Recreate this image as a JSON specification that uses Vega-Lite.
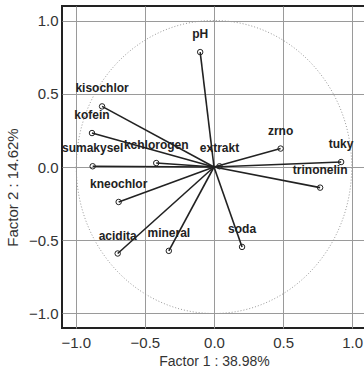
{
  "$schema": "https://vega.github.io/schema/vega-lite/v6.json",
  "autosize": {"type": "none"},
  "padding": {"left": 62, "top": 6, "right": 0, "bottom": 50},
  "width": 304,
  "height": 322,
  "background": "white",
  "config": {
    "view": {"stroke": "#222222", "strokeWidth": 2},
    "axis": {
      "labelFont": "Liberation Sans",
      "labelFontSize": 15,
      "labelColor": "#333333",
      "titleFont": "Liberation Sans",
      "titleFontSize": 14,
      "titleFontWeight": "normal",
      "titleColor": "#333333",
      "grid": true,
      "gridColor": "#9a9a9a",
      "gridWidth": 1,
      "domain": false,
      "ticks": false
    }
  },
  "data": {
    "values": [
      {"var": "pH", "x": -0.10, "y": 0.785},
      {"var": "kisochlor", "x": -0.81, "y": 0.414},
      {"var": "kofein", "x": -0.883, "y": 0.232},
      {"var": "sumakysel", "x": -0.878, "y": 0.005},
      {"var": "kchlorogen", "x": -0.418, "y": 0.027},
      {"var": "kneochlor", "x": -0.69, "y": -0.239},
      {"var": "acidita", "x": -0.697, "y": -0.591},
      {"var": "mineral", "x": -0.327, "y": -0.573},
      {"var": "soda", "x": 0.203, "y": -0.546},
      {"var": "extrakt", "x": 0.04, "y": 0.005},
      {"var": "zrno", "x": 0.482, "y": 0.126},
      {"var": "tuky", "x": 0.92, "y": 0.034},
      {"var": "trinonelin", "x": 0.768, "y": -0.141}
    ]
  },
  "encoding": {
    "x": {
      "field": "x", "type": "quantitative",
      "scale": {"domain": [-1.1, 1.1], "nice": false, "zero": false},
      "axis": {"values": [-1, -0.5, 0, 0.5, 1], "format": ".1f", "title": "Factor 1 : 38.98%", "labelPadding": 7, "titlePadding": 4}
    },
    "y": {
      "field": "y", "type": "quantitative",
      "scale": {"domain": [-1.1, 1.1], "nice": false, "zero": false},
      "axis": {"values": [-1, -0.5, 0, 0.5, 1], "format": ".1f", "title": "Factor 2 : 14.62%", "titleFontSize": 15, "labelPadding": 4, "titleY": 181, "titlePadding": 8}
    }
  },
  "layer": [
    {
      "description": "unit correlation circle",
      "data": {"values": [{"x": 0, "y": 0}]},
      "mark": {
        "type": "point",
        "shape": "M-1,0A1,1.064 0 1,1 1,0A1,1.064 0 1,1 -1,0",
        "size": 75845,
        "filled": false,
        "stroke": "#999999",
        "strokeWidth": 1,
        "strokeDash": [1, 2],
        "opacity": 1
      }
    },
    {
      "mark": {"type": "rule", "color": "#222222", "strokeWidth": 1.6},
      "encoding": {
        "x": {"datum": 0, "type": "quantitative"},
        "y": {"datum": 0, "type": "quantitative"},
        "x2": {"field": "x"},
        "y2": {"field": "y"}
      }
    },
    {
      "mark": {"type": "point", "filled": false, "size": 30, "stroke": "#222222", "strokeWidth": 1, "opacity": 1}
    },
    {
      "mark": {"type": "text", "dy": -18, "font": "Liberation Sans", "fontSize": 12, "fontWeight": "bold", "color": "#222222"},
      "encoding": {"text": {"field": "var"}}
    }
  ]
}
